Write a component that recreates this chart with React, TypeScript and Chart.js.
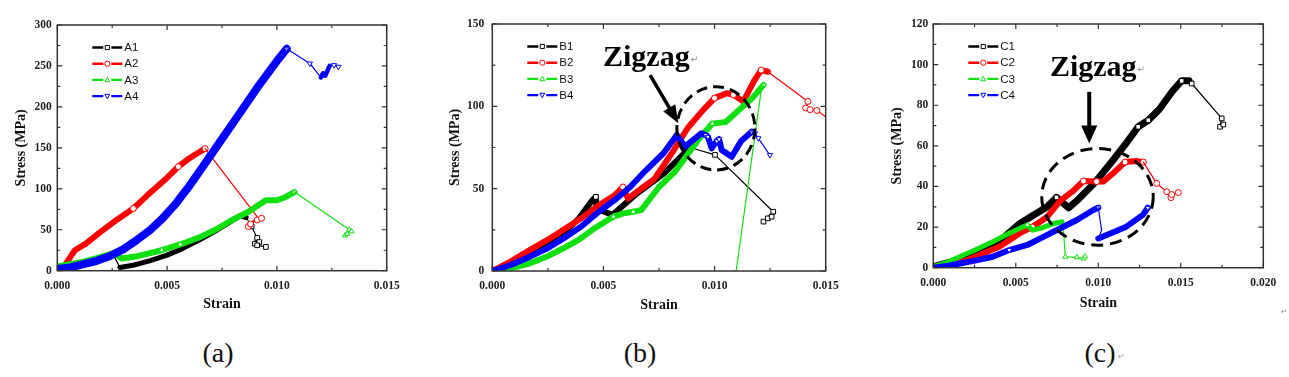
import React, { useEffect, useRef } from "react";
import { Chart, registerables } from "chart.js";
Chart.register(...registerables);

type Pt = [number, number, number?];

// ---------- Panel (a) data: [strain, stress, marker flag] ----------
const A1_lead: Pt[] = [[0.0026, 17, 0], [0.00285, 4, 0]];
const A1_band: Pt[] = [[0.00285, 4], [0.0035, 7], [0.0042, 12], [0.005, 19], [0.0057, 27], [0.0065, 38], [0.0073, 50], [0.0079, 60], [0.0083, 67], [0.0086, 65]];
const A1_tail: Pt[] = [[0.0086, 65, 0], [0.00885, 54], [0.0091, 40], [0.009, 33], [0.0092, 35], [0.0091, 31], [0.0095, 29]];
const A2_band: Pt[] = [[0.0003, 5], [0.0005, 13], [0.0008, 25], [0.0013, 33], [0.002, 48], [0.0027, 62], [0.00346, 76, 1], [0.0041, 92], [0.0049, 111], [0.00551, 127, 1], [0.006, 137], [0.0066, 147], [0.00673, 149, 1]];
const A2_tail: Pt[] = [[0.00673, 149, 0], [0.0091, 66, 0], [0.0087, 54], [0.0088, 57], [0.0091, 62], [0.0093, 64]];
const A3_band: Pt[] = [[0, 5], [0.0012, 11], [0.002, 17], [0.00263, 22], [0.00293, 15], [0.0037, 18], [0.00475, 25, 1], [0.0056, 32, 1], [0.0065, 41], [0.0072, 50], [0.0079, 61], [0.0087, 72], [0.0095, 86], [0.01, 86], [0.0104, 90], [0.0108, 96, 1]];
const A3_tail: Pt[] = [[0.0108, 96, 0], [0.0133, 50], [0.0131, 43], [0.0132, 45], [0.0134, 48]];
const A4_band: Pt[] = [[0, 2], [0.0006, 4], [0.0012, 8], [0.0018, 12], [0.0024, 18], [0.003, 26], [0.0036, 37], [0.0042, 49], [0.0048, 64], [0.0054, 82], [0.006, 103], [0.0066, 126], [0.0074, 157], [0.0083, 192], [0.0092, 227], [0.01, 256], [0.01045, 271, 1]];
const A4_tail: Pt[] = [[0.01045, 271, 0], [0.0115, 253], [0.012, 236, 0]];
const A4_zig: Pt[] = [[0.012, 236], [0.0121, 241], [0.0122, 238], [0.0124, 250]];
const A4_end: Pt[] = [[0.0124, 250, 0], [0.0126, 251], [0.0128, 249]];

// ---------- Panel (b) data ----------
const B1_band: Pt[] = [[0, 0], [0.0008, 4], [0.0017, 10.7], [0.0025, 16.5], [0.0032, 23], [0.0039, 32], [0.0045, 43], [0.00466, 45, 1], [0.0047, 38], [0.0054, 34], [0.0065, 47], [0.0077, 59], [0.0086, 71], [0.0089, 75]];
const B1_tail: Pt[] = [[0.0089, 75, 0], [0.01002, 70.5], [0.01264, 36], [0.0122, 30], [0.0124, 32], [0.01257, 33]];
const B2_band: Pt[] = [[0, 0], [0.0008, 5.5], [0.0017, 12.8], [0.0025, 19], [0.0032, 25], [0.004, 32], [0.0047, 39], [0.0055, 46], [0.00587, 51, 1], [0.0061, 44], [0.0068, 51], [0.0073, 56], [0.0081, 72], [0.0088, 87], [0.0095, 98], [0.01, 105, 1], [0.01055, 108], [0.01085, 107, 1], [0.0113, 103], [0.0118, 116], [0.0121, 122, 1], [0.0124, 121]];
const B2_tail: Pt[] = [[0.0124, 121, 0], [0.0142, 103], [0.0141, 99], [0.0143, 98], [0.0146, 97.5], [0.0151, 92.7, 0]];
const B3_band: Pt[] = [[0, 0], [0.0008, 1.5], [0.0017, 4.7], [0.0025, 9], [0.0032, 13.8], [0.0039, 19], [0.0045, 25], [0.0052, 31], [0.00545, 33, 1], [0.0059, 35], [0.00634, 36, 1], [0.0067, 37], [0.0075, 51], [0.0082, 60], [0.0088, 71], [0.0094, 82], [0.0099, 89.5, 1], [0.0105, 90.5], [0.0112, 99], [0.0117, 105], [0.0122, 113, 1]];
const B3_tail: Pt[] = [[0.0122, 113, 0], [0.0121, 110, 0], [0.01097, 0, 0]];
const B4_band: Pt[] = [[0, 0], [0.0008, 3.5], [0.0017, 8.7], [0.0025, 14], [0.0032, 19.8], [0.004, 27], [0.0047, 35], [0.0055, 43], [0.0062, 51], [0.0069, 61], [0.0077, 71.5], [0.0083, 82.6], [0.00867, 75.5], [0.0094, 83.6], [0.0096, 82.6, 1], [0.0097, 81.5, 1], [0.00987, 74.5], [0.0101, 79, 1], [0.0102, 80, 1], [0.01032, 73.5], [0.01077, 69.4], [0.0112, 79], [0.01167, 84.6, 1]];
const B4_tail: Pt[] = [[0.01167, 84.6, 0], [0.01182, 83.6], [0.01197, 80.6], [0.01249, 70.4]];

// ---------- Panel (c) data ----------
const C1_band: Pt[] = [[0, 0.5], [0.002, 5], [0.004, 13], [0.00525, 21.8], [0.0069, 30], [0.00747, 34.6, 1], [0.0082, 29.5], [0.0087, 33], [0.0098, 42], [0.0109, 53], [0.01175, 62], [0.01242, 69.4, 1], [0.01303, 72.6, 1], [0.0137, 78], [0.0145, 87], [0.01505, 92, 1], [0.0155, 92]];
const C1_tail: Pt[] = [[0.0155, 92, 0], [0.01566, 90.7], [0.01748, 73.5], [0.01738, 69.4], [0.01758, 70.5]];
const C2_band: Pt[] = [[0, 0.5], [0.002, 3.5], [0.004, 10.3], [0.00525, 17], [0.006, 20, 1], [0.0069, 25], [0.0077, 33], [0.0085, 38], [0.0091, 42.7, 1], [0.0099, 42.4, 1], [0.0103, 42.4], [0.0109, 46.5], [0.01162, 52, 1], [0.0123, 52.5], [0.01273, 52, 1]];
const C2_tail: Pt[] = [[0.01273, 52, 0], [0.01354, 41.5], [0.01415, 37.4], [0.0144, 34.5], [0.01445, 36], [0.01485, 37]];
const C3_band: Pt[] = [[0, 0.5], [0.0008, 2.5], [0.0016, 5.4], [0.0026, 9], [0.0036, 12.8], [0.0046, 17], [0.00545, 20.2], [0.0057, 21, 1], [0.006, 18.5], [0.0065, 19.4], [0.0073, 21.8], [0.0078, 22.6]];
const C3_tail: Pt[] = [[0.0078, 22.6, 0], [0.0079, 17, 0], [0.008, 5.4], [0.0087, 5.1], [0.0091, 4.5], [0.0092, 5.5]];
const C4_band: Pt[] = [[0, 0], [0.0008, 0.8], [0.0016, 2.1], [0.0026, 3.6], [0.0036, 5.4], [0.0046, 8.7, 1], [0.0057, 11.2], [0.0067, 15.3], [0.0077, 19.4], [0.0087, 23.5], [0.0097, 28.4], [0.01, 29.6, 1]];
const C4_drop: Pt[] = [[0.01, 29.6, 0], [0.0102, 18.5, 0], [0.01, 14.4, 0]];
const C4_band2: Pt[] = [[0.01, 14.4], [0.0117, 20.2], [0.0127, 26], [0.013, 29.5, 1]];

// ---------- styles ----------
const BLACK = "#000000";
const RED = "#ff0000";
const GREEN = "#10e010";
const BLUE = "#0000ff";
const SERIF = '"Liberation Serif", "Times New Roman", serif';
const SANS = '"Liberation Sans", Arial, sans-serif';

interface Part { pts: Pt[]; band: boolean; w?: number }
interface Series { label: string; color: string; marker: string; width: number; parts: Part[] }

const SERIES_A: Series[] = [
  { label: "A1", color: BLACK, marker: "rect", width: 5, parts: [{ pts: A1_lead, band: false }, { pts: A1_band, band: true }, { pts: A1_tail, band: false }] },
  { label: "A2", color: RED, marker: "circle", width: 6, parts: [{ pts: A2_band, band: true }, { pts: A2_tail, band: false }] },
  { label: "A3", color: GREEN, marker: "triangle", width: 6, parts: [{ pts: A3_band, band: true }, { pts: A3_tail, band: false }] },
  { label: "A4", color: BLUE, marker: "tridown", width: 8, parts: [{ pts: A4_band, band: true }, { pts: A4_tail, band: false }, { pts: A4_zig, band: true, w: 4.5 }, { pts: A4_end, band: false }] },
];
const SERIES_B: Series[] = [
  { label: "B1", color: BLACK, marker: "rect", width: 6, parts: [{ pts: B1_band, band: true }, { pts: B1_tail, band: false }] },
  { label: "B2", color: RED, marker: "circle", width: 6, parts: [{ pts: B2_band, band: true }, { pts: B2_tail, band: false }] },
  { label: "B3", color: GREEN, marker: "triangle", width: 6, parts: [{ pts: B3_band, band: true }, { pts: B3_tail, band: false }] },
  { label: "B4", color: BLUE, marker: "tridown", width: 6, parts: [{ pts: B4_band, band: true }, { pts: B4_tail, band: false }] },
];
const SERIES_C: Series[] = [
  { label: "C1", color: BLACK, marker: "rect", width: 7, parts: [{ pts: C1_band, band: true }, { pts: C1_tail, band: false }] },
  { label: "C2", color: RED, marker: "circle", width: 6, parts: [{ pts: C2_band, band: true }, { pts: C2_tail, band: false }] },
  { label: "C3", color: GREEN, marker: "triangle", width: 5, parts: [{ pts: C3_band, band: true }, { pts: C3_tail, band: false }] },
  { label: "C4", color: BLUE, marker: "tridown", width: 6, parts: [{ pts: C4_band, band: true }, { pts: C4_drop, band: false }, { pts: C4_band2, band: true }] },
];

interface Annot {
  text: [number, number];
  arrow: [number, number, number, number];
  shaft: number; headLen: number; headW: number;
  ellipse: [number, number, number, number];
  dash: number[];
}

interface PanelCfg {
  left: number; width: number; height: number;
  padTop: number; padRight: number; yWidth: number; xHeight: number;
  xMax: number; xStep: number; xMinor: number;
  yMax: number; yStep: number; yMinor: number;
  yTitlePad: number; xTitlePad: number; yTickPad: number;
  series: Series[]; annot?: Annot;
}

const PANEL_A: PanelCfg = {
  left: 0, width: 430, height: 330, padTop: 25, padRight: 43.3, yWidth: 57.3, xHeight: 59.3,
  xMax: 0.015, xStep: 0.005, xMinor: 0.0025, yMax: 300, yStep: 50, yMinor: 25,
  yTitlePad: 12.6, xTitlePad: 17.6, yTickPad: 5.5, series: SERIES_A,
};
const PANEL_B: PanelCfg = {
  left: 430, width: 430, height: 330, padTop: 24, padRight: 34.3, yWidth: 62.3, xHeight: 59,
  xMax: 0.015, xStep: 0.005, xMinor: 0.0025, yMax: 150, yStep: 50, yMinor: 25,
  yTitlePad: 16.6, xTitlePad: 15.9, yTickPad: 8, series: SERIES_B,
  annot: { text: [0.00498, 124.5], arrow: [0.0071, 119, 0.00837, 89.7], shaft: 3.5, headLen: 18, headW: 14, ellipse: [0.01006, 86.6, 0.001755, 25.3], dash: [11, 6] },
};
const PANEL_C: PanelCfg = {
  left: 860, width: 429, height: 330, padTop: 24, padRight: 25.7, yWidth: 73.3, xHeight: 62.3,
  xMax: 0.02, xStep: 0.005, xMinor: 0.0025, yMax: 120, yStep: 20, yMinor: 10,
  yTitlePad: 28.6, xTitlePad: 18.6, yTickPad: 5, series: SERIES_C,
  annot: { text: [0.00707, 94.3], arrow: [0.00945, 86.6, 0.00945, 61.2], shaft: 4, headLen: 18, headW: 16, ellipse: [0.00995, 34.9, 0.00338, 23.8], dash: [12, 7] },
};

function drawMarker(ctx: CanvasRenderingContext2D, marker: string, x: number, y: number, r: number, color: string) {
  ctx.save();
  ctx.strokeStyle = color;
  ctx.fillStyle = "#fff";
  ctx.lineWidth = 1;
  ctx.beginPath();
  if (marker === "rect") {
    ctx.rect(x - r * 0.8, y - r * 0.8, r * 1.6, r * 1.6);
  } else if (marker === "circle") {
    ctx.arc(x, y, r, 0, Math.PI * 2);
  } else if (marker === "triangle") {
    ctx.moveTo(x, y - r);
    ctx.lineTo(x + r * 0.95, y + r * 0.7);
    ctx.lineTo(x - r * 0.95, y + r * 0.7);
    ctx.closePath();
  } else {
    ctx.moveTo(x, y + r);
    ctx.lineTo(x + r * 0.95, y - r * 0.7);
    ctx.lineTo(x - r * 0.95, y - r * 0.7);
    ctx.closePath();
  }
  ctx.fill();
  ctx.stroke();
  ctx.restore();
}

function makePlugins(cfg: PanelCfg) {
  const frame = {
    id: "frameTicks",
    afterDatasetsDraw(chart: any) {
      const { ctx, chartArea: a, scales } = chart;
      const x = scales.x, y = scales.y;
      ctx.save();
      ctx.strokeStyle = "#333";
      ctx.lineWidth = 1.5;
      ctx.strokeRect(a.left, a.top, a.right - a.left, a.bottom - a.top);
      ctx.lineWidth = 1.2;
      const nx = Math.round(cfg.xMax / cfg.xMinor);
      for (let i = 0; i <= nx; i++) {
        const v = i * cfg.xMinor;
        const major = Math.abs(v / cfg.xStep - Math.round(v / cfg.xStep)) < 1e-6;
        const len = major ? 5 : 3;
        const px = x.getPixelForValue(v);
        ctx.beginPath();
        ctx.moveTo(px, a.bottom); ctx.lineTo(px, a.bottom - len);
        ctx.moveTo(px, a.top); ctx.lineTo(px, a.top + len);
        ctx.stroke();
      }
      const ny = Math.round(cfg.yMax / cfg.yMinor);
      for (let i = 0; i <= ny; i++) {
        const v = i * cfg.yMinor;
        const major = Math.abs(v / cfg.yStep - Math.round(v / cfg.yStep)) < 1e-6;
        const len = major ? 5 : 3;
        const py = y.getPixelForValue(v);
        ctx.beginPath();
        ctx.moveTo(a.left, py); ctx.lineTo(a.left + len, py);
        ctx.moveTo(a.right, py); ctx.lineTo(a.right - len, py);
        ctx.stroke();
      }
      ctx.restore();
    },
  };
  const legend = {
    id: "innerLegend",
    afterDraw(chart: any) {
      const { ctx, chartArea: a } = chart;
      ctx.save();
      cfg.series.forEach((s, i) => {
        const yy = a.top + 22.5 + i * 16.2;
        const x0 = a.left + 35;
        ctx.strokeStyle = s.color;
        ctx.lineWidth = 2.4;
        ctx.beginPath();
        ctx.moveTo(x0, yy); ctx.lineTo(x0 + 11, yy);
        ctx.moveTo(x0 + 19, yy); ctx.lineTo(x0 + 30, yy);
        ctx.stroke();
        drawMarker(ctx, s.marker, x0 + 15, yy, 2.6, s.color);
        ctx.fillStyle = "#111";
        ctx.font = `11.5px ${SANS}`;
        ctx.textBaseline = "middle";
        ctx.textAlign = "left";
        ctx.fillText(s.label, x0 + 32, yy + 0.5);
      });
      ctx.restore();
    },
  };
  const annot = {
    id: "zigzag",
    afterDraw(chart: any) {
      const an = cfg.annot;
      if (!an) return;
      const { ctx, scales } = chart;
      const x = scales.x, y = scales.y;
      ctx.save();
      const tx = x.getPixelForValue(an.text[0]);
      const ty = y.getPixelForValue(an.text[1]);
      ctx.fillStyle = "#000";
      ctx.font = `bold 30px ${SERIF}`;
      ctx.textBaseline = "alphabetic";
      ctx.textAlign = "left";
      ctx.fillText("Zigzag", tx, ty);
      const w = ctx.measureText("Zigzag").width;
      ctx.fillStyle = "#888";
      ctx.font = `9px "DejaVu Sans", sans-serif`;
      ctx.fillText("\u21B5", tx + w + 1, ty - 4);
      const x1 = x.getPixelForValue(an.arrow[0]), y1 = y.getPixelForValue(an.arrow[1]);
      const x2 = x.getPixelForValue(an.arrow[2]), y2 = y.getPixelForValue(an.arrow[3]);
      const dx = x2 - x1, dy = y2 - y1;
      const L = Math.hypot(dx, dy);
      const ux = dx / L, uy = dy / L;
      const bx = x2 - ux * an.headLen, by = y2 - uy * an.headLen;
      ctx.strokeStyle = "#000";
      ctx.lineWidth = an.shaft;
      ctx.beginPath();
      ctx.moveTo(x1, y1); ctx.lineTo(bx + ux * 2, by + uy * 2);
      ctx.stroke();
      ctx.fillStyle = "#000";
      ctx.beginPath();
      ctx.moveTo(x2, y2);
      ctx.lineTo(bx - uy * an.headW / 2, by + ux * an.headW / 2);
      ctx.lineTo(bx + uy * an.headW / 2, by - ux * an.headW / 2);
      ctx.closePath();
      ctx.fill();
      const cx = x.getPixelForValue(an.ellipse[0]), cy = y.getPixelForValue(an.ellipse[1]);
      const rx = Math.abs(x.getPixelForValue(an.ellipse[0] + an.ellipse[2]) - cx);
      const ry = Math.abs(y.getPixelForValue(an.ellipse[1] + an.ellipse[3]) - cy);
      ctx.setLineDash(an.dash);
      ctx.lineWidth = 3;
      ctx.beginPath();
      ctx.ellipse(cx, cy, rx, ry, 0, 0, Math.PI * 2);
      ctx.stroke();
      ctx.restore();
    },
  };
  return [frame, annot, legend];
}

function Panel({ cfg }: { cfg: PanelCfg }) {
  const ref = useRef<HTMLCanvasElement>(null);
  useEffect(() => {
    const canvas = ref.current;
    if (!canvas) return;
    const datasets: any[] = [];
    cfg.series.forEach((s, si) => {
      s.parts.forEach((part, pi) => {
        const r = s.marker === "rect" ? 3.3 : 3;
        datasets.push({
          label: s.label,
          data: part.pts.map((p) => ({ x: p[0], y: p[1], m: p[2] })),
          borderColor: s.color,
          backgroundColor: s.color,
          borderWidth: part.band ? (part.w ?? s.width) : 1.2,
          borderJoinStyle: "round",
          borderCapStyle: "round",
          pointStyle: s.marker === "tridown" ? "triangle" : s.marker,
          pointRotation: s.marker === "tridown" ? 180 : 0,
          pointRadius: (c: any) => {
            const m = c.raw ? c.raw.m : undefined;
            if (part.band) return m === 1 ? r : 0;
            return m === 0 ? 0 : r;
          },
          pointBackgroundColor: "#ffffff",
          pointBorderColor: s.color,
          pointBorderWidth: 1,
          fill: false,
          tension: 0,
          clip: 0,
          order: (4 - si) * 10 - pi,
        });
      });
    });
    const tickFont = { family: SERIF, weight: "bold" as const, size: 11.5 };
    const titleFont = { family: SERIF, weight: "bold" as const, size: 14 };
    const chart = new Chart(canvas, {
      type: "line",
      data: { datasets },
      options: {
        responsive: false,
        animation: false,
        devicePixelRatio: 1,
        events: [],
        layout: { padding: { left: 0, top: cfg.padTop, right: cfg.padRight, bottom: 0 } },
        plugins: { legend: { display: false }, tooltip: { enabled: false } },
        scales: {
          x: {
            type: "linear",
            min: 0,
            max: cfg.xMax,
            ticks: {
              stepSize: cfg.xStep,
              autoSkip: false,
              maxRotation: 0,
              padding: 8,
              color: "#222",
              font: tickFont,
              callback: (v: any) => Number(v).toFixed(3),
            },
            grid: { display: false, drawTicks: false },
            border: { display: false },
            title: { display: true, text: "Strain", color: "#111", font: titleFont, padding: { top: 0, bottom: cfg.xTitlePad } },
            afterFit: (sc: any) => { sc.height = cfg.xHeight; },
          },
          y: {
            type: "linear",
            min: 0,
            max: cfg.yMax,
            ticks: {
              stepSize: cfg.yStep,
              autoSkip: false,
              padding: cfg.yTickPad,
              color: "#222",
              font: tickFont,
              callback: (v: any) => String(Math.round(Number(v))),
            },
            grid: { display: false, drawTicks: false },
            border: { display: false },
            title: { display: true, text: "Stress (MPa)", color: "#111", font: titleFont, padding: { top: cfg.yTitlePad, bottom: 0 } },
            afterFit: (sc: any) => { sc.width = cfg.yWidth; },
          },
        },
      } as any,
      plugins: makePlugins(cfg) as any,
    });
    return () => chart.destroy();
  }, []);
  return (
    <canvas
      ref={ref}
      width={cfg.width}
      height={cfg.height}
      style={{ position: "absolute", left: cfg.left, top: 0, width: cfg.width, height: cfg.height }}
    />
  );
}

const CAPTIONS: [string, number][] = [["(a)", 218], ["(b)", 640], ["(c)", 1100]];

export default function App() {
  return (
    <div style={{ position: "absolute", left: 0, top: 0, width: 1289, height: 377, background: "#fff", overflow: "hidden" }}>
      <Panel cfg={PANEL_A} />
      <Panel cfg={PANEL_B} />
      <Panel cfg={PANEL_C} />
      {CAPTIONS.map(([t, cx]) => (
        <div
          key={t}
          style={{
            position: "absolute",
            left: cx,
            top: 353,
            transform: "translate(-50%, -50%)",
            font: `28px ${SERIF}`,
            color: "#111",
            lineHeight: 1,
            whiteSpace: "nowrap",
          }}
        >
          {t}
        </div>
      ))}
      <div style={{ position: "absolute", left: 1118, top: 352, font: '8px "DejaVu Sans", sans-serif', color: "#999" }}>{"\u21B5"}</div>
      <div style={{ position: "absolute", left: 1281, top: 307, font: '8px "DejaVu Sans", sans-serif', color: "#999" }}>{"\u21B5"}</div>
    </div>
  );
}
